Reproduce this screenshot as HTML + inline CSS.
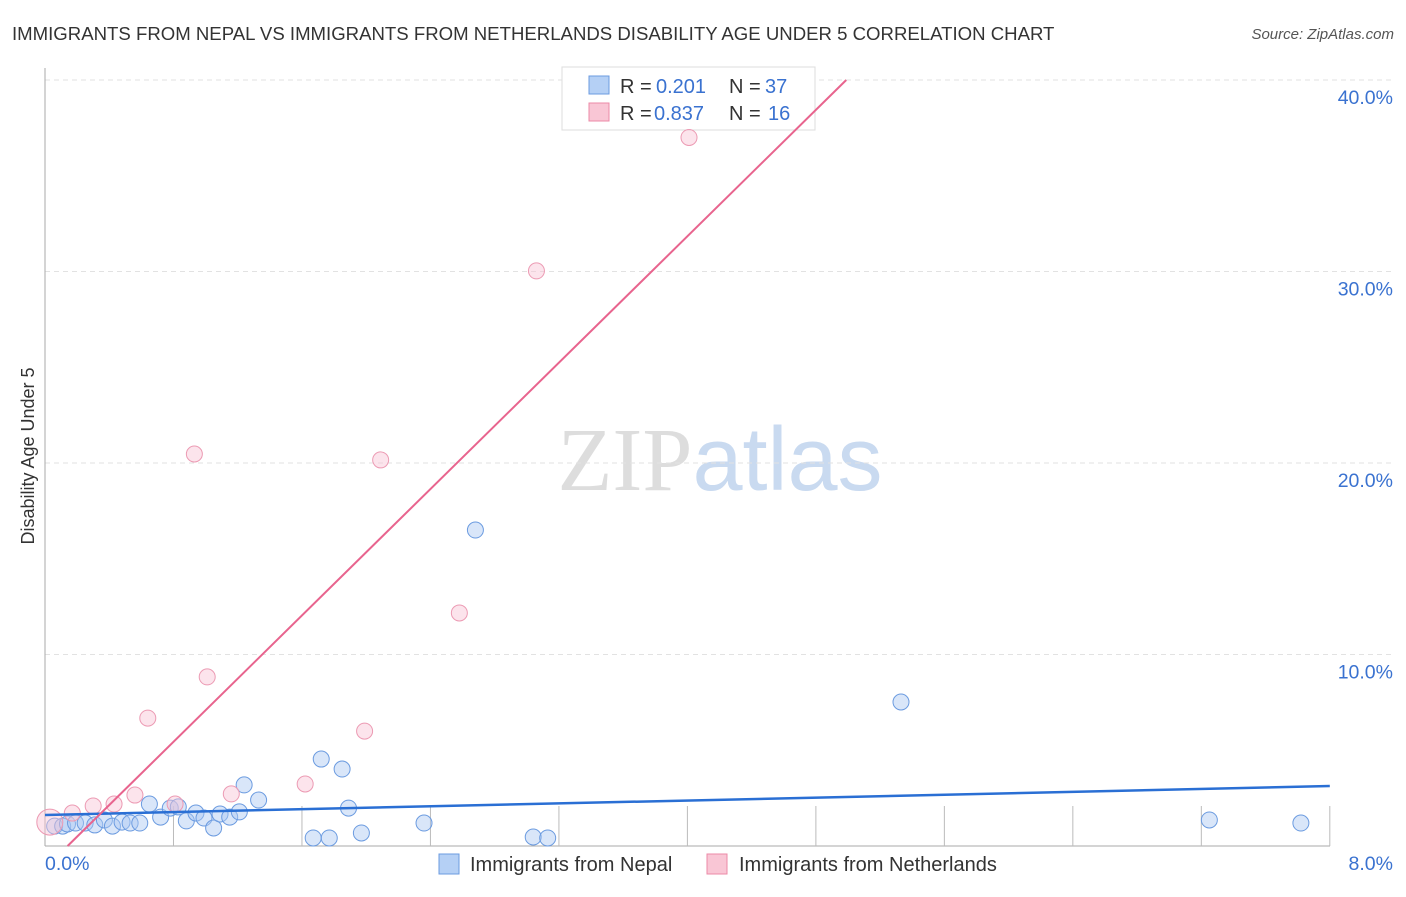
<!DOCTYPE html>
<html><head><meta charset="utf-8"><style>
body{margin:0;background:#fff;font-family:"Liberation Sans",sans-serif;}
svg text{font-family:"Liberation Sans",sans-serif;}
</style></head><body>
<svg id="chart" width="1406" height="892" xmlns="http://www.w3.org/2000/svg">
<text x="12" y="40" font-size="18.6" fill="#333">IMMIGRANTS FROM NEPAL VS IMMIGRANTS FROM NETHERLANDS DISABILITY AGE UNDER 5 CORRELATION CHART</text>
<text x="1394" y="39" font-size="15" fill="#555" font-style="italic" text-anchor="end">Source: ZipAtlas.com</text>
<text x="720" y="490" font-size="90" text-anchor="middle"><tspan fill="#ddd" font-family="Liberation Serif">ZIP</tspan><tspan fill="#c9daf0">atlas</tspan></text>
<text transform="translate(34,456) rotate(-90)" font-size="18" fill="#333" text-anchor="middle">Disability Age Under 5</text>
<g id="grid"></g><g id="axes"></g>
<g>
<rect x="562" y="67" width="253" height="63" fill="#fff" stroke="#ddd"/>
<rect x="589" y="76" width="20" height="18" fill="#b5d0f5" stroke="#6b9be0"/>
<rect x="589" y="103" width="20" height="18" fill="#f9c6d5" stroke="#ec8aa7"/>
<text x="620" y="93" font-size="20" fill="#333">R =</text><text x="656" y="93" font-size="20" fill="#3a72d0">0.201</text>
<text x="729" y="93" font-size="20" fill="#333">N =</text><text x="765" y="93" font-size="20" fill="#3a72d0">37</text>
<text x="620" y="120" font-size="20" fill="#333">R =</text><text x="654" y="120" font-size="20" fill="#3a72d0">0.837</text>
<text x="729" y="120" font-size="20" fill="#333">N =</text><text x="768" y="120" font-size="20" fill="#3a72d0">16</text>
</g>
<g id="pts"></g><g id="lines"></g>
<g>
<rect x="439" y="854" width="20" height="20" fill="#b5d0f5" stroke="#6b9be0"/>
<text x="470" y="871" font-size="20" fill="#333">Immigrants from Nepal</text>
<rect x="707" y="854" width="20" height="20" fill="#f9c6d5" stroke="#ec8aa7"/>
<text x="739" y="871" font-size="20" fill="#333">Immigrants from Netherlands</text>
</g>
</svg>
<script>
const yTicks=[10,20,30,40];
const yTickLabels=["10.0%","20.0%","30.0%","40.0%"];
const xTicks=[0.8,1.6,2.4,3.2,4.0,4.8,5.6,6.4,7.2,8.0];
const nepalX=[0.06,0.11,0.14,0.19,0.25,0.31,0.37,0.42,0.48,0.53,0.59,0.65,0.72,0.78,0.83,0.88,0.94,0.99,1.05,1.09,1.15,1.21,1.24,1.33,1.67,1.77,1.72,1.85,1.89,1.97,2.36,2.68,3.04,3.13,5.33,7.25,7.82];
const nepalY=[1.04,1.04,1.15,1.2,1.2,1.1,1.36,1.04,1.25,1.2,1.2,2.19,1.51,1.98,2.04,1.31,1.72,1.46,0.94,1.67,1.51,1.78,3.19,2.4,0.42,0.42,4.54,4.02,1.98,0.68,1.2,16.5,0.47,0.42,7.52,1.36,1.2];
const nethX=[0.03,0.17,0.30,0.43,0.56,0.64,0.81,0.93,1.01,1.16,1.62,1.99,2.09,2.58,3.06,4.01];
const nethY=[1.25,1.72,2.09,2.19,2.66,6.68,2.19,20.47,8.83,2.72,3.24,6.0,20.16,12.17,30.03,37.0];
const nepalLine=[1.62,3.13];
const nethLine={slope:8.25,intercept:-1.16};
const X=v=>45+v*160.6, Y=v=>846-v*19.15;
const NS="http://www.w3.org/2000/svg";
function mk(tag,attrs,parent){const e=document.createElementNS(NS,tag);for(const k in attrs)e.setAttribute(k,attrs[k]);document.getElementById(parent).appendChild(e);return e;}
yTicks.forEach((t,i)=>{
 const g=mk('line',{x1:45,x2:1393,y1:Y(t),y2:Y(t),stroke:'#e2e2e2','stroke-dasharray':'5,4'},'grid');
 
 
 const l=mk('text',{x:1393,y:Y(t)+24,'font-size':19.5,fill:'#3a72d0','text-anchor':'end'},'grid');
 l.textContent=yTickLabels[i];
 
 
});
const ya=mk('line',{x1:45,x2:45,y1:68,y2:846,stroke:'#aaa'},'axes');


const xa=mk('line',{x1:45,x2:1330,y1:846,y2:846,stroke:'#aaa'},'axes');


xTicks.forEach(t=>{
 const k=mk('line',{x1:X(t),x2:X(t),y1:806,y2:846,stroke:'#bbb'},'axes');
 
 
});
const x0=mk('text',{x:45,y:870,'font-size':19.5,fill:'#3a72d0'},'axes');x0.textContent='0.0%';


const x1=mk('text',{x:1393,y:870,'font-size':19.5,fill:'#3a72d0','text-anchor':'end'},'axes');x1.textContent='8.0%';


nepalX.forEach((x,i)=>{
 const c=mk('circle',{cx:X(x),cy:Y(nepalY[i]),r:8,fill:'rgba(170,200,242,0.45)',stroke:'#6b9be0','stroke-width':1},'pts');
 
 
});
nethX.forEach((x,i)=>{
 const c=mk('circle',{cx:X(x),cy:Y(nethY[i]),r:i==0?13:8,fill:'rgba(249,195,212,0.45)',stroke:'#ec9ab3','stroke-width':1},'pts');
 
 
});
const bl=mk('line',{x1:X(0),y1:Y(nepalLine[0]),x2:X(8),y2:Y(nepalLine[1]),stroke:'#2a6fd4','stroke-width':2.5},'lines');


const xs=-nethLine.intercept/nethLine.slope, xe=(40-nethLine.intercept)/nethLine.slope;
const pl=mk('line',{x1:X(xs),y1:Y(0),x2:X(xe),y2:Y(40),stroke:'#e8648e','stroke-width':2},'lines');


</script>
</body></html>
